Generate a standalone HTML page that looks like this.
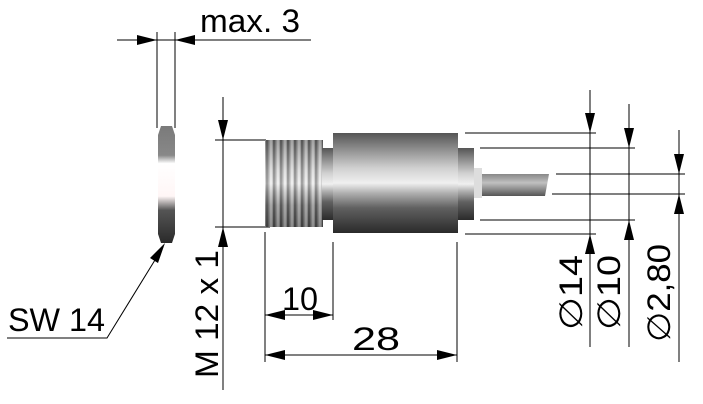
<!DOCTYPE html>
<html><head><style>html,body{margin:0;padding:0;background:#fff;}svg{display:block}</style></head>
<body>
<svg width="703" height="404" viewBox="0 0 703 404" xmlns="http://www.w3.org/2000/svg" font-family="Liberation Sans, sans-serif">
<defs>
<linearGradient id="met" x1="0" y1="0" x2="0" y2="1">
<stop offset="0" stop-color="#555"/><stop offset="0.15" stop-color="#8a8a8a"/><stop offset="0.35" stop-color="#d0d0d0"/><stop offset="0.5" stop-color="#f0f0f0"/><stop offset="0.6" stop-color="#b0b0b0"/><stop offset="0.75" stop-color="#606060"/><stop offset="1" stop-color="#2a2a2a"/>
</linearGradient>
<linearGradient id="nut" x1="0" y1="0" x2="0" y2="1">
<stop offset="0" stop-color="#7a7a7a"/><stop offset="0.25" stop-color="#888"/><stop offset="0.32" stop-color="#fff"/><stop offset="0.6" stop-color="#fff6f6"/><stop offset="0.72" stop-color="#555"/><stop offset="1" stop-color="#2a2a2a"/>
</linearGradient>
<linearGradient id="cab" x1="0" y1="0" x2="0" y2="1">
<stop offset="0" stop-color="#888"/><stop offset="0.4" stop-color="#c0c0c0"/><stop offset="1" stop-color="#555"/>
</linearGradient>
<pattern id="thr" width="7" height="10" patternUnits="userSpaceOnUse">
<rect width="7" height="10" fill="#bbb"/><rect x="0" width="2.5" height="10" fill="#555"/><rect x="4" width="2" height="10" fill="#eee"/>
</pattern>
</defs>
<g stroke="#000" stroke-width="1" fill="none">
<line x1="117" y1="40" x2="311" y2="40"/>
<line x1="157" y1="32" x2="157" y2="128"/>
<line x1="175" y1="32" x2="175" y2="128"/>
<polyline points="7,338 107,338 163,247"/>
<line x1="223" y1="97" x2="223" y2="390"/>
<line x1="215" y1="140" x2="266" y2="140"/>
<line x1="215" y1="227" x2="270" y2="227"/>
<line x1="265" y1="232" x2="265" y2="362"/>
<line x1="333" y1="242" x2="333" y2="320"/>
<line x1="457" y1="242" x2="457" y2="362"/>
<line x1="265" y1="315" x2="333" y2="315"/>
<line x1="265" y1="355" x2="457" y2="355"/>
<line x1="590" y1="90" x2="590" y2="347"/>
<line x1="629" y1="104" x2="629" y2="347"/>
<line x1="679" y1="130" x2="679" y2="362"/>
<line x1="465" y1="133" x2="596" y2="133"/>
<line x1="465" y1="234" x2="596" y2="234"/>
<line x1="480" y1="148" x2="635" y2="148"/>
<line x1="480" y1="220" x2="635" y2="220"/>
<line x1="556" y1="174" x2="685" y2="174"/>
<line x1="552" y1="194" x2="685" y2="194"/>
</g>
<g fill="#000">
<polygon points="157,40 137,35 137,45"/>
<polygon points="175,40 195,35 195,45"/>
<polygon points="165,243 150,258 158,263"/>
<polygon points="223,140 218,120 228,120"/>
<polygon points="223,227 218,247 228,247"/>
<polygon points="265,315 285,310 285,320"/>
<polygon points="333,315 313,310 313,320"/>
<polygon points="265,355 285,350 285,360"/>
<polygon points="457,355 437,350 437,360"/>
<polygon points="590,133 585,113 595,113"/>
<polygon points="590,234 585,254 595,254"/>
<polygon points="629,148 624,128 634,128"/>
<polygon points="629,220 624,240 634,240"/>
<polygon points="679,174 674,154 684,154"/>
<polygon points="679,194 674,214 684,214"/>
</g>
<path d="M161,126 L172,126 L175,135 L175,234 L172,243 L161,243 L158,234 L158,135 Z" fill="url(#nut)"/>
<rect x="265" y="140" width="58" height="87" fill="url(#thr)"/>
<rect x="265" y="140" width="58" height="87" fill="url(#met)" opacity="0.5"/>
<rect x="322" y="148" width="12" height="72" fill="url(#met)"/>
<rect x="333" y="133" width="125" height="100" fill="url(#met)"/>
<rect x="458" y="148" width="16" height="72" fill="url(#met)"/>
<rect x="474" y="168" width="8" height="30" fill="#ddd"/>
<polygon points="482,174 549,174 545,196 482,196" fill="url(#cab)"/>
<g font-size="32" fill="#000">
<text x="200" y="32" textLength="100" lengthAdjust="spacingAndGlyphs">max. 3</text>
<text x="8" y="331" textLength="97" lengthAdjust="spacingAndGlyphs">SW 14</text>
<text x="282" y="310" textLength="36" lengthAdjust="spacingAndGlyphs">10</text>
<text x="352" y="350" textLength="48" lengthAdjust="spacingAndGlyphs">28</text>
<text transform="translate(218,378) rotate(-90)" textLength="128" lengthAdjust="spacingAndGlyphs">M 12 x 1</text>
<text transform="translate(582,330) rotate(-90)" textLength="75" lengthAdjust="spacingAndGlyphs">∅14</text>
<text transform="translate(620,330) rotate(-90)" textLength="75" lengthAdjust="spacingAndGlyphs">∅10</text>
<text transform="translate(670,342) rotate(-90)" textLength="98" lengthAdjust="spacingAndGlyphs">∅2,80</text>
</g>
</svg>
</body></html>
